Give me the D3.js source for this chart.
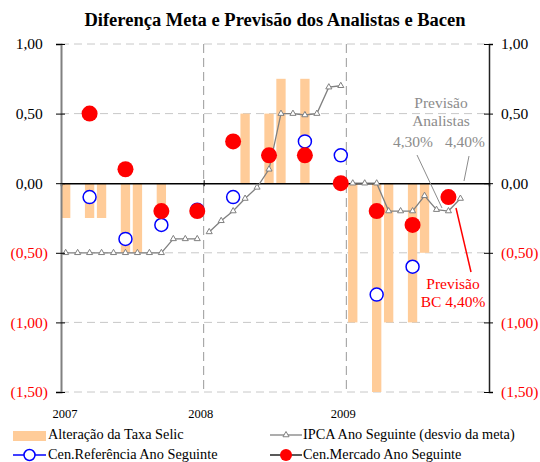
<!DOCTYPE html>
<html>
<head>
<meta charset="utf-8">
<script src="https://cdn.jsdelivr.net/npm/d3@7/dist/d3.min.js"></script>
<style>
  body { margin: 0; background: #fff; }
  svg { font-family: "Liberation Serif", "DejaVu Serif", serif; }
</style>
</head>
<body>
<div id="chart"></div>
<script>
// meses de jan/07 a dez/09
var meses = ["jan/07","fev/07","mar/07","abr/07","mai/07","jun/07","jul/07","ago/07","set/07","out/07","nov/07","dez/07",
             "jan/08","fev/08","mar/08","abr/08","mai/08","jun/08","jul/08","ago/08","set/08","out/08","nov/08","dez/08",
             "jan/09","fev/09","mar/09","abr/09","mai/09","jun/09","jul/09","ago/09","set/09","out/09","nov/09","dez/09"];
var anos = ["2007", "2008", "2009"];

// alteração da Selic (p.p.), null = sem reunião/sem mudança
var selic = [-0.25, null, -0.25, -0.25, null, -0.5, -0.5, null, -0.25, null, null, null,
             null, null, null, 0.5, null, 0.5, 0.75, null, 0.75, null, null, null,
             -1.0, null, -1.5, -1.0, null, -1.0, -0.5, null, null, null, null, null];

// IPCA ano seguinte, desvio da meta
var ipca = [-0.5, -0.5, -0.5, -0.5, -0.5, -0.5, -0.5, -0.5, -0.5, -0.4, -0.4, -0.4,
            -0.35, -0.27, -0.2, -0.11, -0.03, 0.1, 0.5, 0.5, 0.49, 0.5, 0.69, 0.7,
            0, 0, 0, -0.2, -0.2, -0.2, -0.09, -0.19, -0.2, -0.11, null, null];

// relatórios de inflação (trimestral)
var trimestres = ["mar/07","jun/07","set/07","dez/07","mar/08","jun/08","set/08","dez/08","mar/09","jun/09","set/09"];
var referencia = [-0.1, -0.4, -0.3, -0.19, -0.1, 0.2, 0.3, 0.2, -0.8, -0.6, -0.1];
var mercado = [0.5, 0.1, -0.2, -0.2, 0.3, 0.2, 0.2, 0.0, -0.2, -0.3, -0.1];

var yTicks = [1.0, 0.5, 0, -0.5, -1.0, -1.5];

function init(){
    var w = 540;
    var h = 462;
    var left = 61, right = 489, top = 44, bottom = 392;

    var svg = d3.select("#chart")
      .append("svg")
      .attr("width", w)
      .attr("height", h);

    var xScale = d3.scaleBand()
      .domain(meses)
      .range([left, right])
      .paddingInner(0.22);

    var xPoint = function(m){ return xScale(m) + xScale.bandwidth()/2; };
    var xYear = function(i){ return left + (right - left) * i / 3; };

    var yScale = d3.scaleLinear()
      .domain([-1.5, 1.0])
      .range([bottom, top]);

    var fmt = function(d){
        var s = d3.format(".2f")(Math.abs(d)).replace(".", ",");
        return d < 0 ? "(" + s + ")" : s;
    };

    // title
    svg.append("text")
      .attr("x", 275)
      .attr("y", 26)
      .attr("text-anchor", "middle")
      .style("font-size", "18.5px")
      .style("font-weight", "bold")
      .text("Diferença Meta e Previsão dos Analistas e Bacen");

    // horizontal grid
    svg.append("g").selectAll("line")
      .data(yTicks.filter(function(d){ return d != 0; }))
      .enter().append("line")
      .attr("x1", left).attr("x2", right)
      .attr("y1", function(d){ return yScale(d); })
      .attr("y2", function(d){ return yScale(d); })
      .attr("stroke", "#c8c8c8")
      .attr("stroke-dasharray", "8,5");

    // vertical year separators
    svg.append("g").selectAll("line")
      .data([1, 2])
      .enter().append("line")
      .attr("x1", xYear).attr("x2", xYear)
      .attr("y1", top).attr("y2", bottom)
      .attr("stroke", "#999")
      .attr("stroke-dasharray", "9,5");

    // Selic bars
    svg.append("g").selectAll("rect")
      .data(meses.map(function(m, i){ return {m: m, v: selic[i]}; }).filter(function(d){ return d.v != null; }))
      .enter().append("rect")
      .attr("x", function(d){ return xScale(d.m); })
      .attr("width", xScale.bandwidth())
      .attr("y", function(d){ return yScale(Math.max(0, d.v)); })
      .attr("height", function(d){ return Math.abs(yScale(d.v) - yScale(0)); })
      .attr("fill", "#ffcc99");

    // zero line
    var xAxis = d3.axisBottom(d3.scaleLinear().domain([0, 3]).range([left, right]))
      .tickValues([1, 2]).tickSize(3).tickFormat("");
    var gz = svg.append("g").attr("transform", "translate(0," + yScale(0) + ")").call(xAxis);
    gz.select(".domain").attr("stroke", "#000").attr("stroke-width", 1.5);
    gz.selectAll(".tick line").attr("y1", -3).attr("stroke", "#000");

    // year labels
    svg.append("g").selectAll("text")
      .data(anos)
      .enter().append("text")
      .attr("x", function(d, i){ return xYear(i) + (i == 0 ? 4 : -3); })
      .attr("y", 418)
      .attr("text-anchor", "middle")
      .style("font-size", "12.5px")
      .text(function(d){ return d; });

    // IPCA line, one segment per year
    var line = d3.line()
      .defined(function(d){ return d.v != null; })
      .x(function(d){ return xPoint(d.m); })
      .y(function(d){ return yScale(d.v); });
    var ipcaData = meses.map(function(m, i){ return {m: m, v: ipca[i], ano: Math.floor(i/12)}; });
    svg.append("g").selectAll("path")
      .data(d3.groups(ipcaData, function(d){ return d.ano; }))
      .enter().append("path")
      .attr("d", function(g){ return line(g[1]); })
      .attr("fill", "none")
      .attr("stroke", "#808080")
      .attr("stroke-width", 1.3);
    var tri = d3.symbol().type(d3.symbolTriangle).size(16);
    svg.append("g").selectAll("path")
      .data(ipcaData.filter(function(d){ return d.v != null; }))
      .enter().append("path")
      .attr("d", tri)
      .attr("transform", function(d){ return "translate(" + xPoint(d.m) + "," + yScale(d.v) + ")"; })
      .attr("fill", "#fff")
      .attr("stroke", "#808080")
      .attr("stroke-width", 1);

    // Cen. Referência
    svg.append("g").selectAll("circle")
      .data(trimestres.map(function(m, i){ return {m: m, v: referencia[i]}; }))
      .enter().append("circle")
      .attr("cx", function(d){ return xPoint(d.m); })
      .attr("cy", function(d){ return yScale(d.v); })
      .attr("r", 6.5)
      .attr("fill", "#fff")
      .attr("stroke", "#0000ff")
      .attr("stroke-width", 1.5);

    // Cen. Mercado
    svg.append("g").selectAll("circle")
      .data(trimestres.map(function(m, i){ return {m: m, v: mercado[i]}; }))
      .enter().append("circle")
      .attr("cx", function(d){ return xPoint(d.m); })
      .attr("cy", function(d){ return yScale(d.v); })
      .attr("r", 8)
      .attr("fill", "#ff0000");

    // y axes
    var yLeft = d3.axisLeft(yScale).tickValues(yTicks).tickSize(5).tickFormat("");
    var gl = svg.append("g").attr("transform", "translate(" + left + ",0)").call(yLeft);
    gl.select(".domain").attr("stroke", "#808080").attr("stroke-width", 2);
    gl.selectAll(".tick line").attr("x2", -5).attr("x1", 4).attr("stroke", "#000");

    var yRight = d3.axisRight(yScale).tickValues(yTicks).tickSize(4).tickFormat("");
    var gr = svg.append("g").attr("transform", "translate(" + right + ",0)").call(yRight);
    gr.select(".domain").attr("stroke", "#222").attr("stroke-width", 1.5);
    gr.selectAll(".tick line").attr("x1", -5).attr("stroke", "#000");

    var labL = svg.append("g").selectAll("text")
      .data(yTicks)
      .enter().append("text")
      .attr("x", 48)
      .attr("y", function(d){ return yScale(d); })
      .attr("dy", "0.35em")
      .attr("text-anchor", "end")
      .style("font-size", "15.5px")
      .attr("fill", function(d){ return d < 0 ? "#ff0000" : "#000"; });
    labL.append("tspan").text(fmt);
    labL.filter(function(d){ return d >= 0; }).append("tspan").attr("fill-opacity", 0).text(")");

    svg.append("g").selectAll("text")
      .data(yTicks)
      .enter().append("text")
      .attr("x", 501)
      .attr("y", function(d){ return yScale(d); })
      .attr("dy", "0.35em")
      .style("font-size", "15.5px")
      .attr("fill", function(d){ return d < 0 ? "#ff0000" : "#000"; })
      .text(fmt);

    // annotations
    var ann = svg.append("g").style("font-size", "15.5px").attr("text-anchor", "middle");
    ann.append("text").attr("x", 441).attr("y", 108).attr("fill", "#8c8c8c").text("Previsão");
    ann.append("text").attr("x", 441).attr("y", 126).attr("fill", "#8c8c8c").text("Analistas");
    ann.append("text").attr("x", 413).attr("y", 147).attr("fill", "#8c8c8c").text("4,30%");
    ann.append("text").attr("x", 465).attr("y", 147).attr("fill", "#8c8c8c").text("4,40%");
    ann.append("line").attr("x1", 417).attr("y1", 155).attr("x2", 442).attr("y2", 208).attr("stroke", "#8c8c8c");
    ann.append("line").attr("x1", 469).attr("y1", 156).attr("x2", 464).attr("y2", 181).attr("stroke", "#8c8c8c");
    ann.append("text").attr("x", 453).attr("y", 289).attr("fill", "#ff0000").text("Previsão");
    ann.append("text").attr("x", 453).attr("y", 307).attr("fill", "#ff0000").text("BC 4,40%");
    ann.append("line").attr("x1", 456).attr("y1", 208).attr("x2", 471).attr("y2", 272).attr("stroke", "#ff0000").attr("stroke-width", 1.5);

    // legend
    var leg = svg.append("g").style("font-size", "14.3px");
    leg.append("rect").attr("x", 13).attr("y", 431).attr("width", 33).attr("height", 10).attr("fill", "#ffcc99");
    leg.append("text").attr("x", 48).attr("y", 439).text("Alteração da Taxa Selic");

    leg.append("line").attr("x1", 270).attr("x2", 302).attr("y1", 435).attr("y2", 435).attr("stroke", "#808080").attr("stroke-width", 1.3);
    leg.append("path").attr("d", tri).attr("transform", "translate(286,435)").attr("fill", "#fff").attr("stroke", "#808080");
    leg.append("text").attr("x", 303).attr("y", 439).text("IPCA Ano Seguinte (desvio da meta)");

    leg.append("line").attr("x1", 13).attr("x2", 46).attr("y1", 455).attr("y2", 455).attr("stroke", "#0000ff").attr("stroke-width", 1.5);
    leg.append("circle").attr("cx", 29.5).attr("cy", 455).attr("r", 5.5).attr("fill", "#fff").attr("stroke", "#0000ff").attr("stroke-width", 1.5);
    leg.append("text").attr("x", 48).attr("y", 459).text("Cen.Referência Ano Seguinte");

    leg.append("line").attr("x1", 270).attr("x2", 302).attr("y1", 455).attr("y2", 455).attr("stroke", "#222").attr("stroke-width", 1.5);
    leg.append("circle").attr("cx", 286).attr("cy", 455).attr("r", 6).attr("fill", "#ff0000");
    leg.append("text").attr("x", 303).attr("y", 459).text("Cen.Mercado Ano Seguinte");
}

window.onload = init;
</script>
</body>
</html>
